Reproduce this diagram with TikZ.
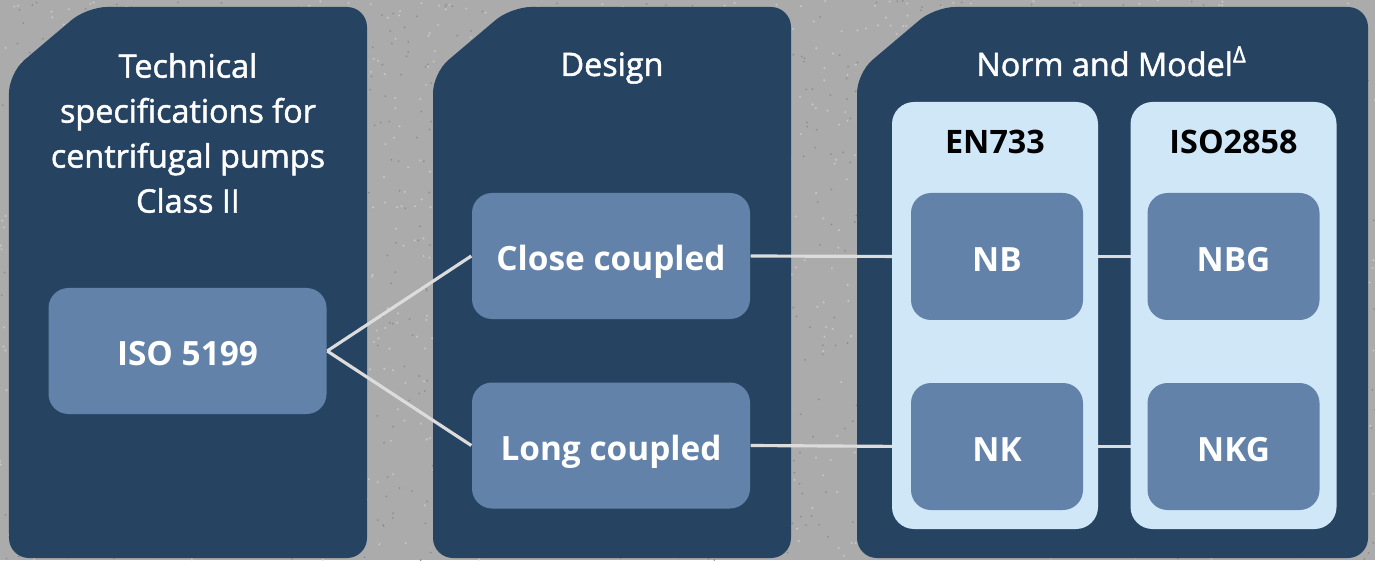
\documentclass[tikz,border=0pt]{standalone}
\usepackage{fontspec}
\setmainfont{Open Sans}
\newfontfamily\titlefont{Open Sans}[FakeBold=1.5]
\usetikzlibrary{positioning}
\definecolor{concrete}{HTML}{ABABAB}
\definecolor{speck}{HTML}{8E8E8E}
\definecolor{flake}{HTML}{C4C4C4}
\definecolor{navy}{HTML}{264462}
\definecolor{boxblue}{HTML}{6382A9}
\definecolor{lightcol}{HTML}{CFE7F7}
\definecolor{linegray}{HTML}{DCDCDC}
\pgfdeclarelayer{back}
\pgfdeclarelayer{links}
\pgfsetlayers{back,links,main}

\begin{document}
\begin{tikzpicture}
		\tikzstyle{Panel} = [fill=navy, rounded corners=0.2cm]
		\tikzstyle{Title} = [text=white, font=\titlefont\fontsize{9.2}{12.8}\selectfont, align=center, inner sep=0pt]
		\tikzstyle{Head} = [text=black, font=\bfseries\fontsize{9.2}{11}\selectfont, inner sep=0pt]
		\tikzstyle{Node} = [rectangle, rounded corners=0.2cm, fill=boxblue, text=white, font=\bfseries\fontsize{9.5}{12}\selectfont, text centered, inner sep=0pt, text height=0.33cm, text depth=0.03cm, minimum width=2.78cm, minimum height=1.26cm]
		\tikzstyle{Small} = [Node, minimum width=1.72cm, minimum height=1.27cm]
		\tikzstyle{Column} = [rectangle, rounded corners=0.22cm, fill=lightcol, inner sep=0pt, minimum width=2.06cm, minimum height=4.27cm]
		\tikzstyle{link} = [draw=linegray, line width=0.9pt]
		
		\useasboundingbox (0,0) rectangle (13.75,5.6);
		\begin{pgfonlayer}{back}
		\fill[concrete] (0,0) rectangle (13.75,5.6);
		% rough concrete grain
		\pgfmathsetseed{42}
		\foreach \i in {1,...,1500} {
			\fill[speck] (13.75*rnd,5.6*rnd) circle (0.01);
			\fill[flake] (13.75*rnd,5.6*rnd) circle (0.012);
		}
		\fill[Panel] (0.09,0.02) -- (0.09,4.87) -- (0.87,5.53) -- (3.67,5.53) -- (3.67,0.02) -- cycle;
		\fill[Panel] (4.33,0.02) -- (4.33,4.87) -- (5.11,5.53) -- (7.91,5.53) -- (7.91,0.02) -- cycle;
		\fill[Panel] (8.57,0.02) -- (8.57,4.87) -- (9.35,5.53) -- (13.68,5.53) -- (13.68,0.02) -- cycle;
		\end{pgfonlayer}
		
		\node (spec) [Title] at (1.88,4.27) {Technical\\specifications for\\centrifugal pumps\\Class II};
		\node (design) [Title, anchor=base] at (6.12,4.84) {Design};
		\node (norm) [Title, anchor=base] at (11.12,4.84) {Norm and Model\textsuperscript{Δ}};
		
		\node (iso) [Node] at (1.875,2.09) {ISO 5199};
		\node (close) [Node] at (6.11,3.04) {Close coupled};
		\node (long) [Node] at (6.11,1.145) {Long coupled};
		
		\node (en) [Column] at (9.95,2.445) {};
		\node (isocol) [Column] at (12.335,2.445) {};
		\node (enhead) [Head, anchor=base] at (9.95,4.06) {EN733};
		\node (isohead) [Head, anchor=base] at (12.335,4.06) {ISO2858};
		
		\node (nb) [Small] at (9.97,3.035) {NB};
		\node (nk) [Small] at (9.97,1.135) {NK};
		\node (nbg) [Small] at (12.335,3.035) {NBG};
		\node (nkg) [Small] at (12.335,1.135) {NKG};
		
		\begin{pgfonlayer}{links}
		\draw[link] (iso.east) -- (close.west);
		\draw[link] (iso.east) -- (long.west);
		\draw[link] (close.east) -- (nb.west);
		\draw[link] (long.east) -- (nk.west);
		\draw[link] (nb.east) -- (nbg.west);
		\draw[link] (nk.east) -- (nkg.west);
		\end{pgfonlayer}
\end{tikzpicture}
\end{document}
